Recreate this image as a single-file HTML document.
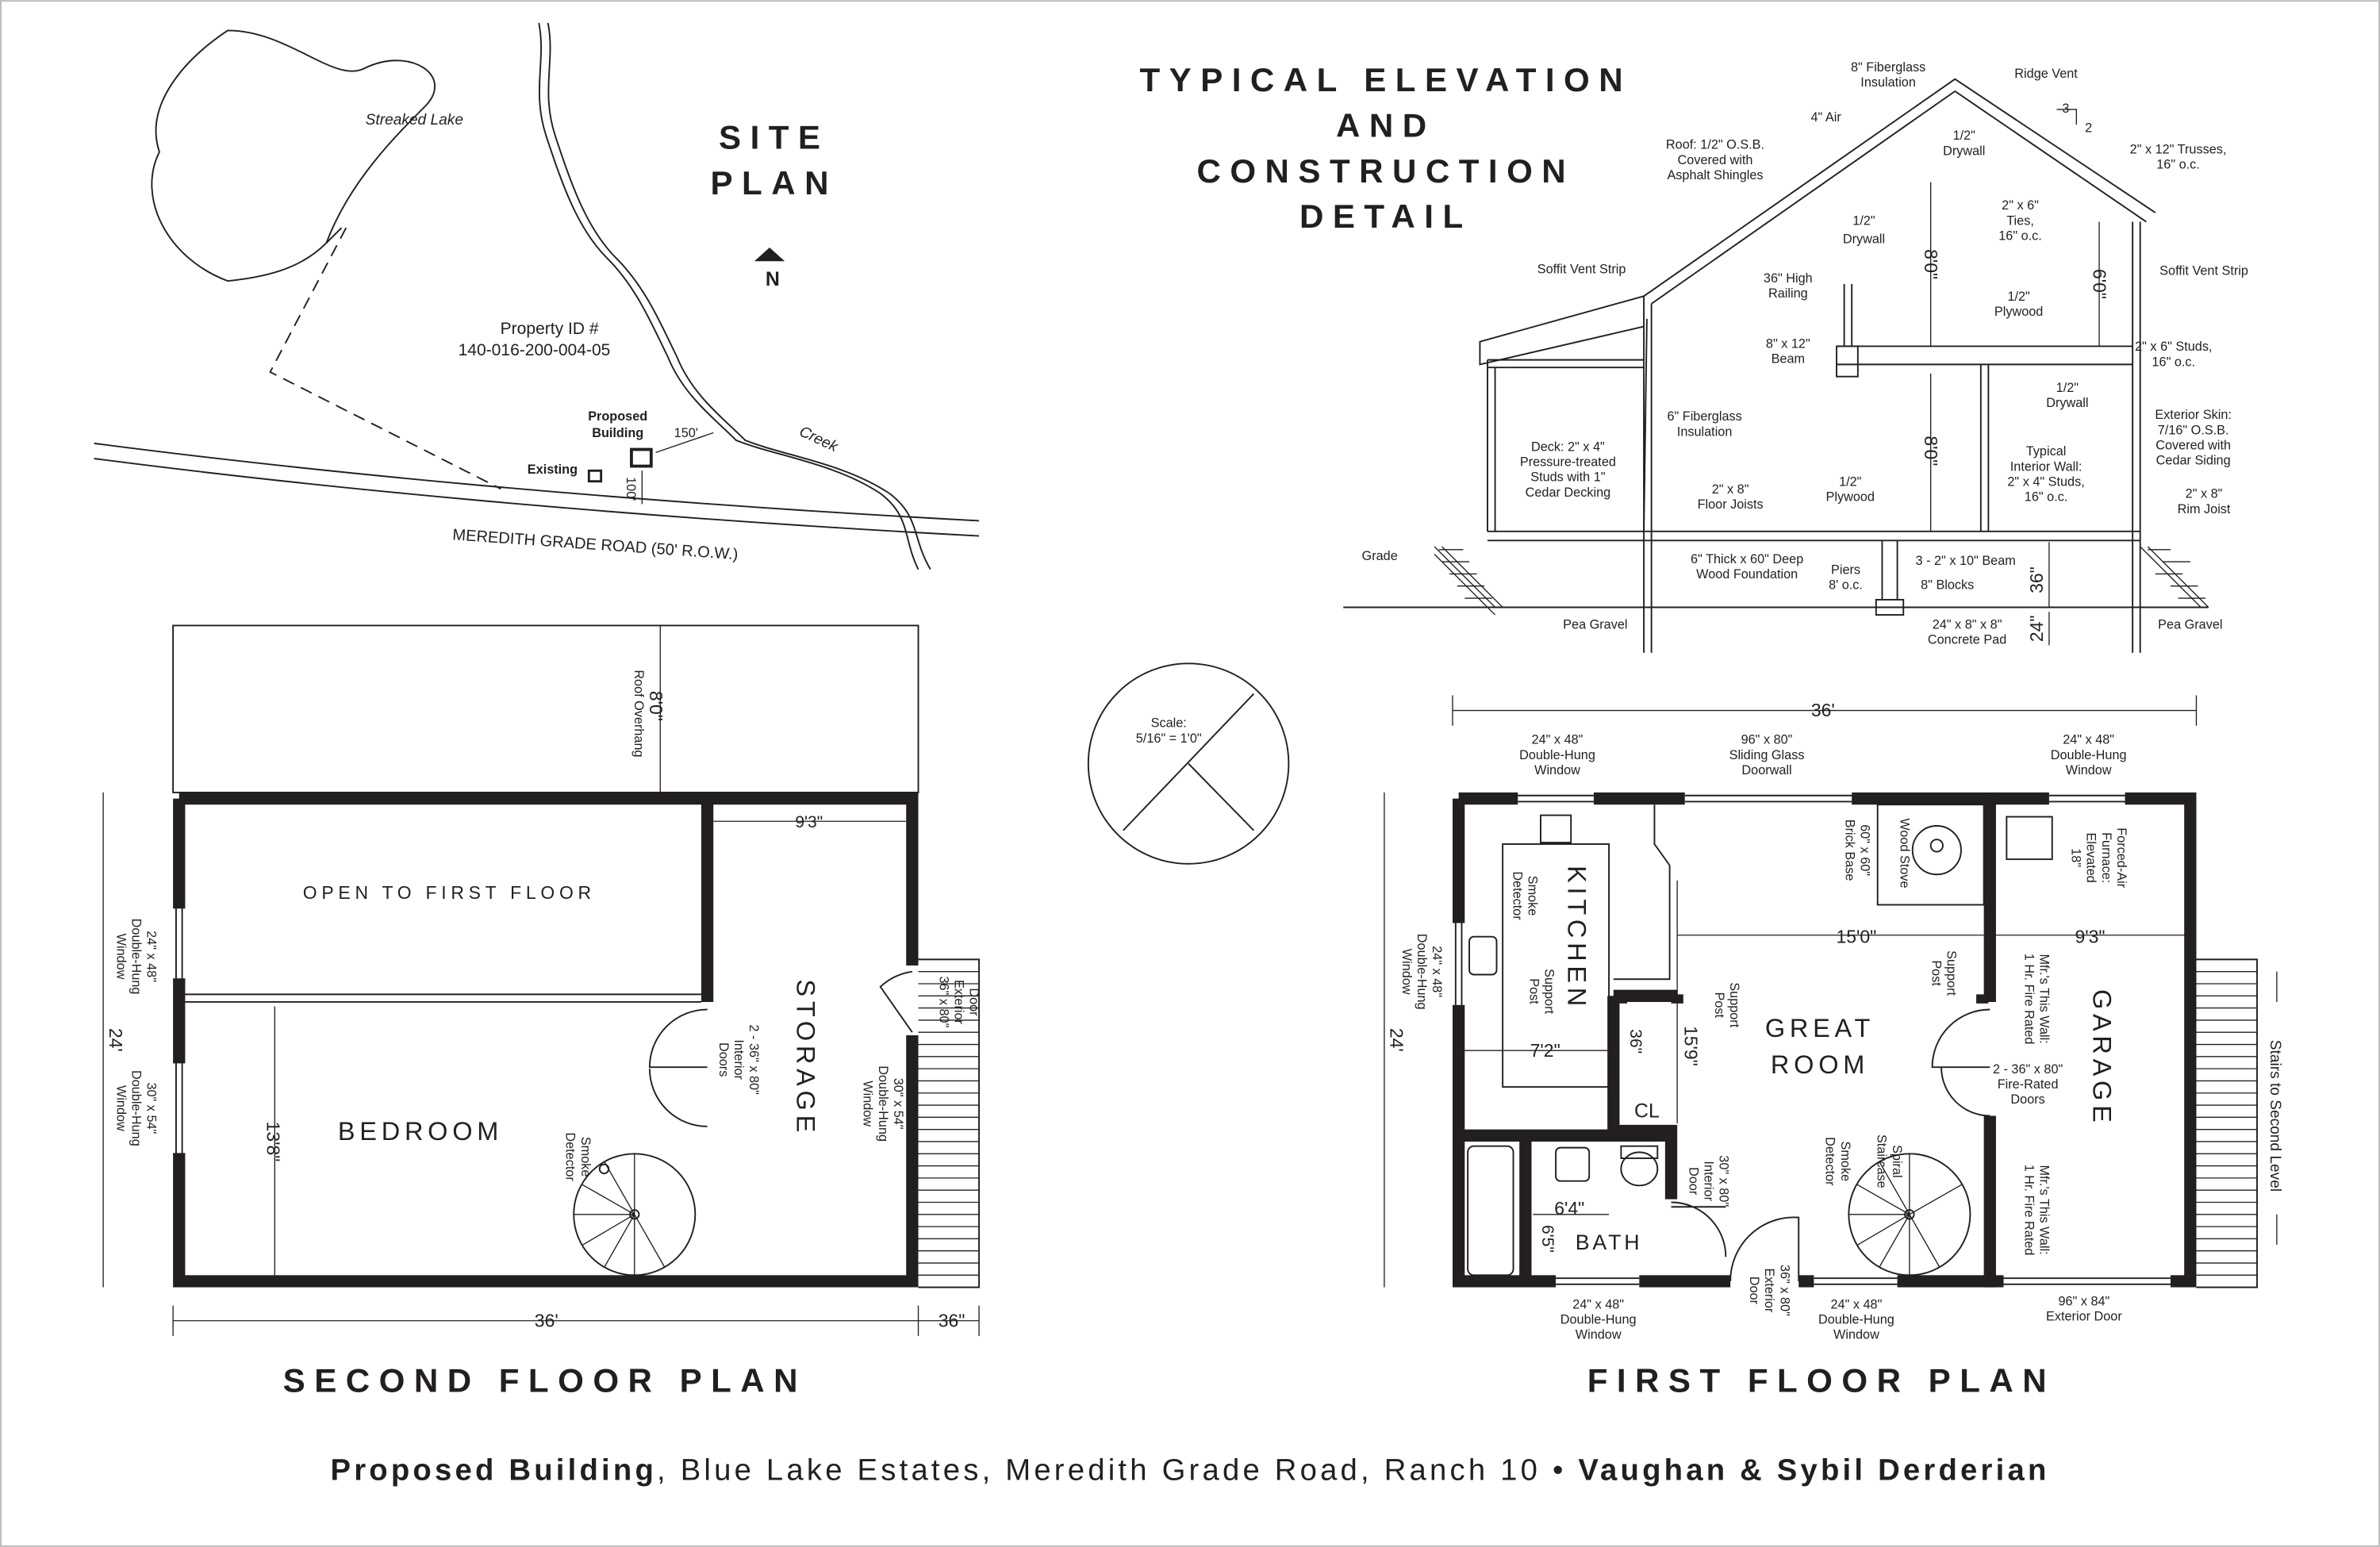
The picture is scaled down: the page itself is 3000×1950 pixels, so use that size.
<!DOCTYPE html>
<html><head><meta charset="utf-8"><style>
html,body{margin:0;padding:0;background:#fff}
svg{display:block}
text{font-family:"Liberation Sans",sans-serif;fill:#231f20}
.t{font-size:8.5px;text-anchor:middle}
.h{font-size:22px;font-weight:bold;letter-spacing:6px;text-anchor:middle}
.r{font-size:17px;letter-spacing:3px;text-anchor:middle}
.w{fill:none;stroke:#231f20;stroke-width:8}
.l{fill:none;stroke:#231f20;stroke-width:1}
.d{fill:none;stroke:#231f20;stroke-width:0.7}
</style></head><body>
<svg width="3000" height="1950" viewBox="0 0 1568 1019" xmlns="http://www.w3.org/2000/svg">
<rect x="0.5" y="0.5" width="1567" height="1018" fill="#fff" stroke="#bbb" stroke-width="1"/>

<!-- SITE PLAN -->
<path class="l" d="M150,20 C120,40 95,70 105,100 C90,130 110,170 150,185 C180,182 200,175 215,160 C230,120 260,90 280,70 C300,50 270,30 240,45 C220,55 190,20 150,20 Z"/>
<path class="l" d="M215,160 L225,150"/>
<text x="273" y="82" style="font-size:10px;font-style:italic" text-anchor="middle">Streaked Lake</text>
<path class="l" d="M355,15 C360,40 350,60 360,90 C370,120 380,150 400,170 C420,190 430,215 440,235 C450,260 470,275 485,290 C510,300 550,305 580,325 C600,340 595,355 605,375"/>
<path class="l" d="M361,15 C366,40 356,60 366,90 C376,120 386,150 406,170 C426,190 436,215 446,235 C456,260 476,275 491,290 C516,300 556,305 586,325 C606,340 601,355 613,375"/>
<text x="538" y="292" style="font-size:10px;font-style:italic" text-anchor="middle" transform="rotate(25 538 292)">Creek</text>
<path class="l" stroke-dasharray="8,5" d="M228,150 L178,245 L330,322"/>
<path class="l" d="M62,292 C200,310 400,330 645,343"/>
<path class="l" d="M62,302 C200,320 400,340 645,353"/>
<text x="392" y="362" style="font-size:10.5px" text-anchor="middle" transform="rotate(4 392 362)">MEREDITH GRADE ROAD (50' R.O.W.)</text>
<text x="362" y="220" style="font-size:11px" text-anchor="middle">Property ID #</text>
<text x="352" y="234" style="font-size:11px" text-anchor="middle">140-016-200-004-05</text>
<text x="407" y="277" style="font-size:8.5px;font-weight:bold" text-anchor="middle">Proposed</text>
<text x="407" y="288" style="font-size:8.5px;font-weight:bold" text-anchor="middle">Building</text>
<text x="364" y="312" style="font-size:8.5px;font-weight:bold" text-anchor="middle">Existing</text>
<rect x="416" y="296" width="13" height="11" fill="none" stroke="#231f20" stroke-width="2"/>
<rect x="388" y="310" width="8" height="7" fill="none" stroke="#231f20" stroke-width="1.5"/>
<path class="d" d="M432,298 L470,285 M423,310 L423,332"/>
<text x="452" y="288" class="t">150'</text>
<text x="413" y="322" class="t" transform="rotate(90 413 322)">100'</text>
<text x="510" y="98" class="h">SITE</text>
<text x="510" y="128" class="h">PLAN</text>
<path d="M497,172 L507,163 L517,172 Z" fill="#231f20"/>
<text x="509" y="188" style="font-size:13px;font-weight:bold" text-anchor="middle">N</text>

<!-- ELEVATION TITLE -->
<text x="913" y="60" class="h">TYPICAL ELEVATION</text>
<text x="913" y="90" class="h">AND</text>
<text x="913" y="120" class="h">CONSTRUCTION</text>
<text x="913" y="150" class="h">DETAIL</text>

<!-- ELEVATION -->
<g class="l">
<path d="M885,400 L1455,400"/>
<path d="M1083,195 L1288,52 L1420,140"/>
<path d="M1088,200 L1288,60 L1414,146"/>
<path d="M1083,195 L975,225 L975,240 L1083,215"/>
<path d="M980,237 L1083,237 M980,242 L1083,242"/>
<path d="M980,237 L980,350 M985,242 L985,350"/>
<path d="M1083,195 L1083,430 M1088,200 L1088,430"/>
<path d="M1405,146 L1405,430 M1410,146 L1410,430"/>
<path d="M980,350 L1410,350 M980,356 L1410,356"/>
<path d="M1210,240 L1405,240 M1210,228 L1405,228"/>
<rect x="1210" y="228" width="14" height="20"/>
<path d="M1215,187 L1215,228 M1220,187 L1220,228"/>
<path d="M1305,240 L1305,350 M1310,240 L1310,350"/>
<path d="M1240,356 L1240,395 M1250,356 L1250,395"/>
<rect x="1236" y="395" width="18" height="10"/>
<path d="M1085,210 L1083,350"/>
</g>
<g class="d">
<path d="M945,360 L985,400 M950,360 L990,400 M945,365 L985,405"/>
<path d="M1410,360 L1450,400 M1415,360 L1455,400"/>
<path d="M950,370 L968,370 M955,378 L973,378 M960,386 L978,386 M965,394 L983,394 M948,362 L964,362"/>
<path d="M1425,370 L1443,370 M1420,378 L1438,378 M1415,362 L1430,362 M1430,386 L1448,386 M1435,394 L1453,394"/>
<path d="M1272,120 L1272,228 M1383,146 L1383,228 M1272,246 L1272,350 M1350,357 L1350,400 M1350,403 L1350,425"/>
<path d="M1355,72 L1368,72 L1368,82"/>
</g>
<g class="t">
<text x="1244" y="47">8" Fiberglass</text><text x="1244" y="57">Insulation</text>
<text x="1348" y="51">Ridge Vent</text>
<text x="1203" y="80">4" Air</text>
<text x="1294" y="92">1/2"</text><text x="1294" y="102">Drywall</text>
<text x="1130" y="98">Roof: 1/2" O.S.B.</text><text x="1130" y="108">Covered with</text><text x="1130" y="118">Asphalt Shingles</text>
<text x="1435" y="101">2" x 12" Trusses,</text><text x="1435" y="111">16" o.c.</text>
<text x="1331" y="138">2" x 6"</text><text x="1331" y="148">Ties,</text><text x="1331" y="158">16" o.c.</text>
<text x="1228" y="148">1/2"</text><text x="1228" y="160">Drywall</text>
<text x="1042" y="180">Soffit Vent Strip</text>
<text x="1452" y="181">Soffit Vent Strip</text>
<text x="1178" y="186">36" High</text><text x="1178" y="196">Railing</text>
<text x="1330" y="198">1/2"</text><text x="1330" y="208">Plywood</text>
<text x="1178" y="229">8" x 12"</text><text x="1178" y="239">Beam</text>
<text x="1432" y="231">2" x 6" Studs,</text><text x="1432" y="241">16" o.c.</text>
<text x="1362" y="258">1/2"</text><text x="1362" y="268">Drywall</text>
<text x="1123" y="277">6" Fiberglass</text><text x="1123" y="287">Insulation</text>
<text x="1445" y="276">Exterior Skin:</text><text x="1445" y="286">7/16" O.S.B.</text><text x="1445" y="296">Covered with</text><text x="1445" y="306">Cedar Siding</text>
<text x="1033" y="297">Deck: 2" x 4"</text><text x="1033" y="307">Pressure-treated</text><text x="1033" y="317">Studs with 1"</text><text x="1033" y="327">Cedar Decking</text>
<text x="1348" y="300">Typical</text><text x="1348" y="310">Interior Wall:</text><text x="1348" y="320">2" x 4" Studs,</text><text x="1348" y="330">16" o.c.</text>
<text x="1140" y="325">2" x 8"</text><text x="1140" y="335">Floor Joists</text>
<text x="1219" y="320">1/2"</text><text x="1219" y="330">Plywood</text>
<text x="1452" y="328">2" x 8"</text><text x="1452" y="338">Rim Joist</text>
<text x="909" y="369">Grade</text>
<text x="1151" y="371">6" Thick x 60" Deep</text><text x="1151" y="381">Wood Foundation</text>
<text x="1295" y="372">3 - 2" x 10" Beam</text>
<text x="1216" y="378">Piers</text><text x="1216" y="388">8' o.c.</text>
<text x="1283" y="388">8" Blocks</text>
<text x="1051" y="414">Pea Gravel</text>
<text x="1296" y="414">24" x 8" x 8"</text><text x="1296" y="424">Concrete Pad</text>
<text x="1443" y="414">Pea Gravel</text>
<text x="1361" y="74">3</text><text x="1376" y="87">2</text>
</g>
<g style="font-size:12px" text-anchor="middle">
<text x="1268" y="174" transform="rotate(90 1268 174)">8'0"</text>
<text x="1268" y="297" transform="rotate(90 1268 297)">8'0"</text>
<text x="1379" y="187" transform="rotate(90 1379 187)">6'0"</text>
<text x="1346" y="382" transform="rotate(-90 1346 382)">36"</text>
<text x="1346" y="414" transform="rotate(-90 1346 414)">24"</text>
</g>

<!-- SCALE CIRCLE -->
<circle cx="783" cy="503" r="66" class="l"/>
<path class="l" d="M740,547 L826,457 M783,503 L826,547"/>
<text x="770" y="479" class="t">Scale:</text><text x="770" y="489" class="t">5/16" = 1'0"</text>

<!-- SECOND FLOOR -->
<rect x="114" y="412" width="491" height="110" class="l"/>
<path class="d" d="M435,412 L435,522"/>
<text x="428" y="465" style="font-size:12px" text-anchor="middle" transform="rotate(90 428 465)">8'0"</text>
<text x="428" y="470" class="t" transform="rotate(90 428 470)" dy="10">Roof Overhang</text>
<path class="w" d="M118,526 L601,526 L601,636 M601,682 L601,844 L118,844 L118,760 M118,700 L118,645 M118,598 L118,526"/>
<path class="l" d="M114,598 L122,598 M114,645 L122,645 M114,700 L122,700 M114,760 L122,760 M116,598 L116,645 M120,598 L120,645 M116,700 L116,760 M120,700 L120,760"/>
<path class="w" d="M466,526 L466,660"/>
<path class="l" d="M122,655 L462,655 M122,660 L462,660"/>
<path class="l" d="M466,665 A38,38 0 0 0 428,703 L466,703 M466,742 A38,38 0 0 1 428,704"/>
<path class="l" d="M601,640 A40,40 0 0 0 580,650 L601,680"/>
<circle cx="418" cy="800" r="40" class="l"/><circle cx="418" cy="800" r="3" class="l"/>
<path class="d" d="M418,800 L378,800 M418,800 L383,780 M418,800 L398,765 M418,800 L418,760 M418,800 L384,820 M418,800 L398,835 M418,800 L418,840 M418,800 L438,835"/>
<path class="l" d="M605,632 L645,632 L645,848 L605,848"/>
<path class="d" d="M605,640 L645,640 M605,648 L645,648 M605,656 L645,656 M605,664 L645,664 M605,672 L645,672 M605,680 L645,680 M605,688 L645,688 M605,696 L645,696 M605,704 L645,704 M605,712 L645,712 M605,720 L645,720 M605,728 L645,728 M605,736 L645,736 M605,744 L645,744 M605,752 L645,752 M605,760 L645,760 M605,768 L645,768 M605,776 L645,776 M605,784 L645,784 M605,792 L645,792 M605,800 L645,800 M605,808 L645,808 M605,816 L645,816 M605,824 L645,824 M605,832 L645,832 M605,840 L645,840"/>
<path class="d" d="M470,541 L597,541 M181,663 L181,840 M68,522 L68,848 M114,870 L605,870 M605,870 L645,870 M114,860 L114,880 M605,860 L605,880 M645,860 L645,880"/>
<text x="533" y="545" style="font-size:11px" text-anchor="middle" fill="#231f20">9'3"</text>
<text x="296" y="592" style="font-size:12px;letter-spacing:3px" text-anchor="middle">OPEN TO FIRST FLOOR</text>
<text x="277" y="751" class="r">BEDROOM</text>
<text x="525" y="697" class="r" transform="rotate(90 525 697)">STORAGE</text>
<text x="176" y="752" style="font-size:12px" text-anchor="middle" transform="rotate(90 176 752)">13'8"</text>
<text x="72" y="685" style="font-size:12px" text-anchor="middle" transform="rotate(90 72 685)">24'</text>
<text x="360" y="874" style="font-size:12px" text-anchor="middle">36'</text>
<text x="627" y="874" style="font-size:12px" text-anchor="middle">36"</text>
<g class="t">
<text x="0" y="0" transform="translate(97,630) rotate(90)">24" x 48"</text><text x="0" y="0" transform="translate(87,630) rotate(90)">Double-Hung</text><text x="0" y="0" transform="translate(77,630) rotate(90)">Window</text>
<text x="0" y="0" transform="translate(97,730) rotate(90)">30" x 54"</text><text x="0" y="0" transform="translate(87,730) rotate(90)">Double-Hung</text><text x="0" y="0" transform="translate(77,730) rotate(90)">Window</text>
<text x="0" y="0" transform="translate(494,698) rotate(90)">2 - 36" x 80"</text><text x="0" y="0" transform="translate(484,698) rotate(90)">Interior</text><text x="0" y="0" transform="translate(474,698) rotate(90)">Doors</text>
<text x="0" y="0" transform="translate(589,727) rotate(90)">30" x 54"</text><text x="0" y="0" transform="translate(579,727) rotate(90)">Double-Hung</text><text x="0" y="0" transform="translate(569,727) rotate(90)">Window</text>
<text x="0" y="0" transform="translate(619,660) rotate(90)">36" x 80"</text><text x="0" y="0" transform="translate(629,660) rotate(90)">Exterior</text><text x="0" y="0" transform="translate(639,660) rotate(90)">Door</text>
<text x="0" y="0" transform="translate(383,762) rotate(90)">Smoke</text><text x="0" y="0" transform="translate(373,762) rotate(90)">Detector</text>
</g>
<circle cx="398" cy="770" r="3" class="l"/>
<text x="359" y="917" class="h">SECOND FLOOR PLAN</text>

<!-- FIRST FLOOR -->
<path class="w" d="M961,526 L1000,526 M1050,526 L1110,526 M1220,526 L1350,526 M1400,526 L1443,526 L1443,844 L1430,844 M1320,844 L1250,844 M1195,844 L1185,844 M1140,844 L1080,844 M1025,844 L961,844 L961,662 M961,608 L961,526"/>
<path class="l" d="M1000,524 L1050,524 M1000,528 L1050,528 M1110,524 L1220,524 M1110,528 L1220,528 M1350,524 L1400,524 M1350,528 L1400,528 M1025,842 L1080,842 M1025,846 L1080,846 M1195,842 L1250,842 M1195,846 L1250,846 M1320,842 L1430,842 M1320,846 L1430,846 M959,608 L959,662 M963,608 L963,662"/>
<path class="w" d="M1311,526 L1311,660 M1311,735 L1311,848"/>
<path class="w" d="M961,748 L1105,748 M1005,748 L1005,844 M1101,748 L1101,790 M1063,656 L1105,656 M1063,656 L1063,745 M1063,745 L1105,745"/>
<path class="l" d="M1101,792 A36,36 0 0 1 1137,828 M1101,795 L1137,795"/>
<path class="l" d="M1140,844 A42,42 0 0 1 1185,802 L1185,844"/>
<path class="l" d="M1311,665 A38,38 0 0 0 1273,703 L1311,703 M1311,735 A32,32 0 0 1 1279,703"/>
<rect x="990" y="556" width="70" height="160" class="l"/>
<path class="l" d="M1090,530 L1090,556 L1100,570 L1100,645 L1063,645"/>
<rect x="1237" y="530" width="70" height="66" class="l"/>
<circle cx="1276" cy="560" r="16" class="l"/><circle cx="1276" cy="557" r="4" class="l"/>
<rect x="1322" y="538" width="30" height="28" class="l"/>
<rect x="1015" y="537" width="20" height="18" class="l"/>
<rect x="968" y="617" width="18" height="25" rx="3" class="l"/>
<rect x="967" y="755" width="30" height="85" rx="4" class="l"/>
<rect x="1025" y="756" width="22" height="22" rx="3" class="l"/>
<ellipse cx="1080" cy="770" rx="12" ry="11" class="l"/><rect x="1068" y="755" width="24" height="8" class="l"/>
<rect x="1064" y="655" width="8" height="6" fill="#231f20"/><rect x="1101" y="655" width="8" height="6" fill="#231f20"/><rect x="1302" y="655" width="8" height="6" fill="#231f20"/>
<circle cx="1258" cy="800" r="40" class="l"/><circle cx="1258" cy="800" r="3" class="l"/>
<path class="d" d="M1258,800 L1218,800 M1258,800 L1223,780 M1258,800 L1238,765 M1258,800 L1258,760 M1258,800 L1224,820 M1258,800 L1238,835 M1258,800 L1258,840 M1258,800 L1278,835 M1258,800 L1293,780"/>
<path class="l" d="M1447,632 L1487,632 L1487,848 L1447,848"/>
<path class="d" d="M1447,640 L1487,640 M1447,648 L1487,648 M1447,656 L1487,656 M1447,664 L1487,664 M1447,672 L1487,672 M1447,680 L1487,680 M1447,688 L1487,688 M1447,696 L1487,696 M1447,704 L1487,704 M1447,712 L1487,712 M1447,720 L1487,720 M1447,728 L1487,728 M1447,736 L1487,736 M1447,744 L1487,744 M1447,752 L1487,752 M1447,760 L1487,760 M1447,768 L1487,768 M1447,776 L1487,776 M1447,784 L1487,784 M1447,792 L1487,792 M1447,800 L1487,800 M1447,808 L1487,808 M1447,816 L1487,816 M1447,824 L1487,824 M1447,832 L1487,832 M1447,840 L1487,840"/>
<path class="d" d="M957,468 L1447,468 M957,458 L957,478 M1447,458 L1447,478 M912,522 L912,848 M1105,616 L1307,616 M1315,616 L1443,616 M965,692 L1059,692 M1010,800 L1060,800 M1105,580 L1105,740 M1500,640 L1500,660 M1500,800 L1500,820"/>
<text x="1201" y="472" style="font-size:12px" text-anchor="middle">36'</text>
<text x="916" y="685" style="font-size:12px" text-anchor="middle" transform="rotate(90 916 685)">24'</text>
<text x="1223" y="621" style="font-size:12px" text-anchor="middle">15'0"</text>
<text x="1377" y="621" style="font-size:12px" text-anchor="middle">9'3"</text>
<text x="1018" y="696" style="font-size:12px" text-anchor="middle">7'2"</text>
<text x="1034" y="800" style="font-size:12px" text-anchor="middle">6'4"</text>
<text x="1110" y="689" style="font-size:12px" text-anchor="middle" transform="rotate(90 1110 689)">15'9"</text>
<text x="1074" y="686" style="font-size:11px" text-anchor="middle" transform="rotate(90 1074 686)">36"</text>
<text x="1016" y="816" style="font-size:11px" text-anchor="middle" transform="rotate(90 1016 816)">6'5"</text>
<text x="1033" y="618" class="r" transform="rotate(90 1033 618)">KITCHEN</text>
<text x="1199" y="683" class="r">GREAT</text>
<text x="1199" y="707" class="r">ROOM</text>
<text x="1379" y="697" class="r" transform="rotate(90 1379 697)">GARAGE</text>
<text x="1060" y="823" style="font-size:14px;letter-spacing:2px" text-anchor="middle">BATH</text>
<text x="1085" y="736" style="font-size:13px" text-anchor="middle">CL</text>
<text x="1496" y="735" style="font-size:10px" text-anchor="middle" transform="rotate(90 1496 735)">Stairs to Second Level</text>
<g class="t">
<text x="1026" y="490">24" x 48"</text><text x="1026" y="500">Double-Hung</text><text x="1026" y="510">Window</text>
<text x="1164" y="490">96" x 80"</text><text x="1164" y="500">Sliding Glass</text><text x="1164" y="510">Doorwall</text>
<text x="1376" y="490">24" x 48"</text><text x="1376" y="500">Double-Hung</text><text x="1376" y="510">Window</text>
<text x="1053" y="862">24" x 48"</text><text x="1053" y="872">Double-Hung</text><text x="1053" y="882">Window</text>
<text x="1223" y="862">24" x 48"</text><text x="1223" y="872">Double-Hung</text><text x="1223" y="882">Window</text>
<text x="1373" y="860">96" x 84"</text><text x="1373" y="870">Exterior Door</text>
<text x="0" y="0" transform="translate(944,640) rotate(90)">24" x 48"</text><text x="0" y="0" transform="translate(934,640) rotate(90)">Double-Hung</text><text x="0" y="0" transform="translate(924,640) rotate(90)">Window</text>
<text x="0" y="0" transform="translate(1007,590) rotate(90)">Smoke</text><text x="0" y="0" transform="translate(997,590) rotate(90)">Detector</text>
<text x="0" y="0" transform="translate(1018,653) rotate(90)">Support</text><text x="0" y="0" transform="translate(1008,653) rotate(90)">Post</text>
<text x="0" y="0" transform="translate(1140,662) rotate(90)">Support</text><text x="0" y="0" transform="translate(1130,662) rotate(90)">Post</text>
<text x="0" y="0" transform="translate(1283,641) rotate(90)">Support</text><text x="0" y="0" transform="translate(1273,641) rotate(90)">Post</text>
<text x="0" y="0" transform="translate(1226,560) rotate(90)">60" x 60"</text><text x="0" y="0" transform="translate(1216,560) rotate(90)">Brick Base</text>
<text x="0" y="0" transform="translate(1252,562) rotate(90)">Wood Stove</text>
<text x="0" y="0" transform="translate(1395,565) rotate(90)">Forced-Air</text><text x="0" y="0" transform="translate(1385,565) rotate(90)">Furnace:</text><text x="0" y="0" transform="translate(1375,565) rotate(90)">Elevated</text><text x="0" y="0" transform="translate(1365,565) rotate(90)">18"</text>
<text x="0" y="0" transform="translate(1344,658) rotate(90)">Mfr.'s This Wall:</text><text x="0" y="0" transform="translate(1334,658) rotate(90)">1 Hr. Fire Rated</text>
<text x="0" y="0" transform="translate(1344,797) rotate(90)">Mfr.'s This Wall:</text><text x="0" y="0" transform="translate(1334,797) rotate(90)">1 Hr. Fire Rated</text>
<text x="1336" y="707">2 - 36" x 80"</text><text x="1336" y="717">Fire-Rated</text><text x="1336" y="727">Doors</text>
<text x="0" y="0" transform="translate(1247,765) rotate(90)">Spiral</text><text x="0" y="0" transform="translate(1237,765) rotate(90)">Staircase</text>
<text x="0" y="0" transform="translate(1213,765) rotate(90)">Smoke</text><text x="0" y="0" transform="translate(1203,765) rotate(90)">Detector</text>
<text x="0" y="0" transform="translate(1133,778) rotate(90)">30" x 80"</text><text x="0" y="0" transform="translate(1123,778) rotate(90)">Interior</text><text x="0" y="0" transform="translate(1113,778) rotate(90)">Door</text>
<text x="0" y="0" transform="translate(1173,850) rotate(90)">36" x 80"</text><text x="0" y="0" transform="translate(1163,850) rotate(90)">Exterior</text><text x="0" y="0" transform="translate(1153,850) rotate(90)">Door</text>
</g>
<text x="1200" y="917" class="h">FIRST FLOOR PLAN</text>

<text x="784" y="975" style="font-size:20px;letter-spacing:2.2px" text-anchor="middle"><tspan font-weight="bold">Proposed Building</tspan>, Blue Lake Estates, Meredith Grade Road, Ranch 10 • <tspan font-weight="bold">Vaughan &amp; Sybil Derderian</tspan></text>
</svg>
</body></html>
